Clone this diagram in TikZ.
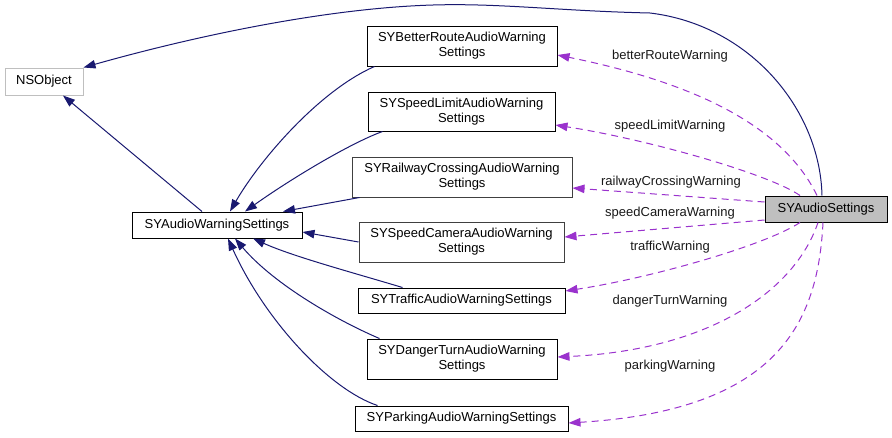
\documentclass[tikz,border=0pt]{standalone}
\usepackage{fontspec}
\setmainfont{Liberation Sans}
\usetikzlibrary{arrows.meta}
\definecolor{navyedge}{HTML}{191970}
\definecolor{orchid}{HTML}{9A32CD}
\definecolor{greyA}{HTML}{BFBFBF}
\definecolor{darkbox}{HTML}{404040}
\begin{document}
\begin{tikzpicture}[x=1pt,y=-1pt,
  box/.style={draw=black,line width=1pt,rectangle,inner sep=0pt,align=center,
    font=\fontsize{13}{15}\selectfont,text=black},
  lbl/.style={inner sep=0pt,font=\fontsize{13}{15}\selectfont,text=black!90},
  inh/.style={draw=navyedge,line width=1pt,-{Triangle[length=12pt,width=8.5pt]},navyedge},
  use/.style={draw=orchid,line width=1pt,dash pattern=on 7pt off 5pt,
    -{Triangle[length=12pt,width=8.5pt]},orchid},
]
\useasboundingbox (0,0) rectangle (892,437);

\node[box,draw=greyA,minimum width=78pt,minimum height=27pt] (ns) at (44,81.5) {NSObject};
\node[box,minimum width=170pt,minimum height=26pt] (aws) at (217,225) {SYAudioWarningSettings};
\node[box,minimum width=190pt,minimum height=40pt] (br) at (462,46) {SYBetterRouteAudioWarning\\Settings};
\node[box,minimum width=187pt,minimum height=39pt] (sl) at (461.5,111.5) {SYSpeedLimitAudioWarning\\Settings};
\node[box,draw=darkbox,minimum width=220pt,minimum height=40pt] (rc) at (462,177) {SYRailwayCrossingAudioWarning\\Settings};
\node[box,draw=darkbox,minimum width=205pt,minimum height=40pt] (sc) at (461.5,242) {SYSpeedCameraAudioWarning\\Settings};
\node[box,minimum width=207pt,minimum height=25pt] (tr) at (461.5,300.5) {SYTrafficAudioWarningSettings};
\node[box,minimum width=190pt,minimum height=40pt] (dt) at (462,359) {SYDangerTurnAudioWarning\\Settings};
\node[box,minimum width=213pt,minimum height=25pt] (pk) at (461.5,418.5) {SYParkingAudioWarningSettings};
\node[box,fill=greyA,minimum width=122pt,minimum height=26pt] (sas) at (826,209) {SYAudioSettings};

% labels
\node[lbl] (lbr) at (670,56) {betterRouteWarning};
\node[lbl] (lsl) at (670,126) {speedLimitWarning};
\node[lbl] (lrc) at (671,182) {railwayCrossingWarning};
\node[lbl] (lsc) at (670,213) {speedCameraWarning};
\node[lbl] (ltr) at (670,247) {trafficWarning};
\node[lbl] (ldt) at (670,301) {dangerTurnWarning};
\node[lbl] (lpk) at (670,366) {parkingWarning};

% inheritance edges
\draw[inh] ([xshift=-15pt]aws.north) -- ([xshift=19pt]ns.south);
\coordinate (w1) at (650,13);
\coordinate (w2) at (433,5);
\draw[inh] ([xshift=-4pt]sas.north) .. controls +(-2,-86) and +(100,12) .. (w1)
  .. controls +(-90,-2) and +(67,-2) .. (w2)
  .. controls +(-103,3) and +(117,-33) .. (ns.north east);
\draw[inh] ([xshift=8pt]br.south west) .. controls +(-55,24) and +(30,-52) .. ([xshift=13pt]aws.north);
\draw[inh] ([xshift=15pt]sl.south west) .. controls +(-33,12) and +(45,-32) .. ([xshift=28pt]aws.north);
\draw[inh] ([xshift=8pt]rc.south west) -- ([xshift=66pt]aws.north);
\draw[inh] (sc.west) -- ([yshift=-7pt]aws.east);
\draw[inh] ([xshift=45pt]tr.north west) .. controls +(-50,-15) and +(40,18) .. ([xshift=36pt]aws.south);
\draw[inh] ([xshift=13pt]dt.north west) .. controls +(-40,-17) and +(40,47) .. ([xshift=18pt]aws.south);
\draw[inh] ([xshift=23pt]pk.north west) .. controls +(-48,-16) and +(37,82) .. ([xshift=11pt]aws.south);

% usage edges
\draw[use] ([xshift=-9pt]sas.north) .. controls +(-37,-76) and +(123,25) .. ([yshift=-9pt]br.east);
\draw[use] ([xshift=-26pt]sas.north) .. controls +(-30,-21) and +(95,15) .. ([yshift=-13.5pt]sl.east);
\draw[use] ([yshift=7pt]sas.west) -- ([yshift=-11pt]rc.east);
\draw[use] ([yshift=-11pt]sas.west) -- ([yshift=5pt]sc.east);
\draw[use] ([xshift=-26pt]sas.south) .. controls +(-35,23) and +(85,-13) .. ([yshift=9.5pt]tr.east);
\draw[use] ([xshift=-8pt]sas.south) .. controls +(-23,68) and +(153,-7) .. ([yshift=2pt]dt.east);
\draw[use] ([xshift=-3pt]sas.south) .. controls +(-5,98) and +(212,-13) .. ([yshift=-4.5pt]pk.east);
\end{tikzpicture}
\end{document}
